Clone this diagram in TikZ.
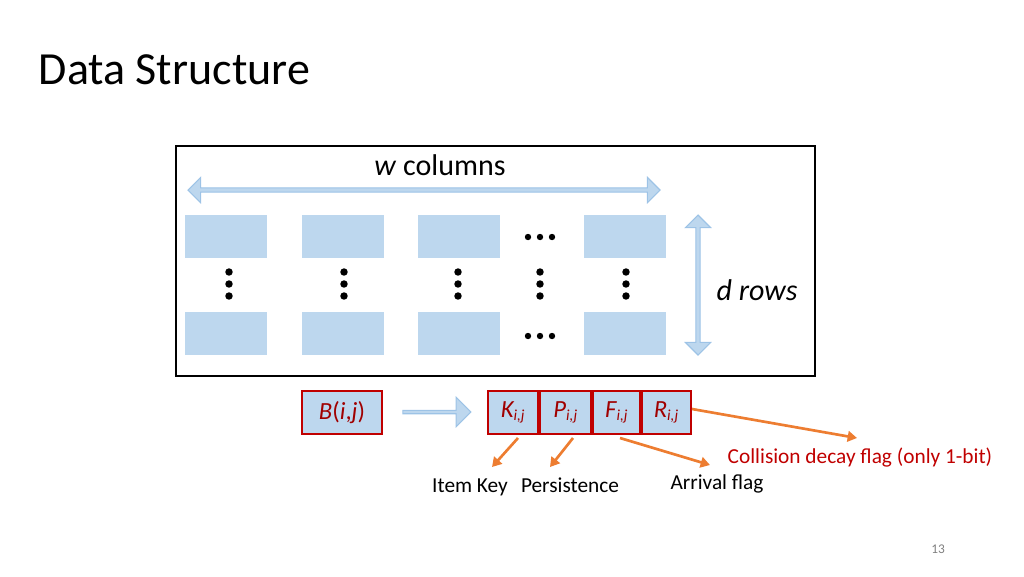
\documentclass[tikz,border=0pt]{standalone}
\usepackage{fontspec}
\setmainfont{Carlito}
\usetikzlibrary{shapes.arrows,arrows.meta}
\definecolor{cellblue}{HTML}{BDD7EE}
\definecolor{arrblue}{HTML}{9DC3E6}
\definecolor{dred}{HTML}{C00000}
\definecolor{txtred}{HTML}{A00000}
\definecolor{orng}{HTML}{ED7D31}
\begin{document}
\begin{tikzpicture}[x=0.75pt,y=-0.75pt,
  cell/.style={draw=none,fill=cellblue,minimum width=61.5pt,minimum height=32pt,inner sep=0pt},
  bcell/.style={draw=dred,line width=1.5pt,fill=cellblue,minimum height=32pt,inner sep=0pt,text=txtred,font=\fontsize{18.5}{20}\selectfont\itshape},
  oarr/.style={draw=orng,line width=2pt,-{Triangle[length=7pt,width=8pt]}},
  lbl/.style={font=\fontsize{16}{18}\selectfont,anchor=base}]
\useasboundingbox (0,0) rectangle (1024,576);
\node[anchor=west,font=\fontsize{34.5}{40}\selectfont] (title) at (34,70) {Data Structure};
\node[draw,line width=1.5pt,minimum width=479pt,minimum height=172.5pt,inner sep=0pt] (frame) at (495.5,261) {};
\node[font=\fontsize{22.5}{26}\selectfont] (wc) at (440,165) {\textit{w} columns};
\node[double arrow,fill=cellblue,draw=arrblue,line width=0.8pt,minimum width=19pt,double arrow head extend=2pt,minimum height=354pt,inner sep=0pt] (ha) at (424,190) {};
\node[double arrow,shape border rotate=90,fill=cellblue,draw=arrblue,line width=0.8pt,minimum width=19pt,double arrow head extend=2pt,minimum height=105pt,inner sep=0pt] (va) at (698,285) {};
\node[font=\fontsize{22.5}{26}\selectfont\itshape] (dr) at (757,290) {d rows};
\foreach \x/\n in {226/1,343/2,459/3,625/4}{
  \node[cell] (t\n) at (\x,236.5) {};
  \node[cell] (b\n) at (\x,333.5) {};
}
\foreach \x/\n in {229/1,344/2,458/3,540/4,626/5}{
  \foreach \y/\m in {272/a,284/b,296/c}{\fill (\x,\y) circle (2.8pt);}
}
\foreach \x in {528,540,552}{\fill (\x,237) circle (2.4pt); \fill (\x,336) circle (2.4pt);}
\node[bcell,minimum width=60pt] (B) at (342,412.5) {B\upshape(\textit{i},\textit{j})};
\node[single arrow,fill=cellblue,draw=arrblue,line width=0.8pt,minimum width=22pt,single arrow head extend=3pt,minimum height=51pt,inner sep=0pt] (ra) at (436,412) {};
\node[bcell,minimum width=37.5pt] (K) at (513,412.5) {K\textsubscript{\fontsize{11.5}{12}\selectfont i,j}};
\node[bcell,minimum width=38.5pt,anchor=west] (P) at (K.east) {P\textsubscript{\fontsize{11.5}{12}\selectfont i,j}};
\node[bcell,minimum width=35pt,anchor=west] (F) at (P.east) {F\textsubscript{\fontsize{11.5}{12}\selectfont i,j}};
\node[bcell,minimum width=36.5pt,anchor=west] (R) at (F.east) {R\textsubscript{\fontsize{11.5}{12}\selectfont i,j}};
\node[lbl] (ik) at (470,492) {Item Key};
\node[lbl] (ps) at (570,492) {Persistence};
\node[lbl] (af) at (717,489) {Arrival flag};
\node[lbl,text=dred] (cd) at (860,463) {Collision decay flag (only 1-bit)};
\coordinate (k1) at (518,438); \coordinate (k2) at (492,467);
\coordinate (p1) at (573,438); \coordinate (p2) at (550,467);
\coordinate (f1) at (620,438); \coordinate (f2) at (710,465);
\coordinate (r1) at (692,409); \coordinate (r2) at (857,438);
\draw[oarr] (k1) -- (k2);
\draw[oarr] (p1) -- (p2);
\draw[oarr] (f1) -- (f2);
\draw[oarr] (r1) -- (r2);
\node[text=gray,font=\fontsize{10}{11}\selectfont] (pg) at (938,549) {13};
\end{tikzpicture}
\end{document}
